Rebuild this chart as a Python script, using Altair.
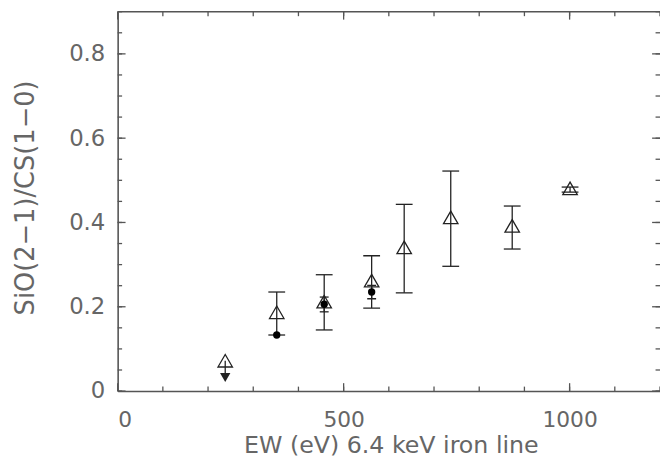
import altair as alt
import pandas as pd

# ---- data ----
ew = [238, 352, 457, 562, 634, 737, 873, 1001]
ratio = [0.072, 0.187, 0.212, 0.262, 0.341, 0.412, 0.392, 0.481]
ratio_lo = [None, 0.133, 0.145, 0.197, 0.233, 0.296, 0.337, 0.472]
ratio_hi = [None, 0.235, 0.276, 0.321, 0.443, 0.522, 0.439, 0.484]

# upper limit (first point)
lim_ew = [238]
lim_from = [0.072]
lim_to = [0.032]

# filled circles
ew_c = [352, 457, 562]
ratio_c = [0.133, 0.206, 0.235]
ratio_c_lo = [None, 0.188, 0.219]
ratio_c_hi = [None, 0.223, 0.251]

# axis ticks
x_labels = [0, 500, 1000]
y_labels = [0.0, 0.2, 0.4, 0.6, 0.8]
x_minor = list(range(0, 1201, 100))
x_major = [0, 500, 1000]
y_minor = [round(0.05 * i, 2) for i in range(19)]
y_major = [0.0, 0.2, 0.4, 0.6, 0.8]

W, H = 549, 384
MAJ, MIN = 8, 4.5
INK = "#222222"
AXC = "#555555"
TXT = "#666666"
FONT = "DejaVu Sans"

tri = pd.DataFrame({"ew": ew, "r": ratio, "lo": ratio_lo, "hi": ratio_hi})
tri_err = tri.dropna()
lim = pd.DataFrame({"ew": lim_ew, "a": lim_from, "b": lim_to})
circ = pd.DataFrame({"ew": ew_c, "r": ratio_c, "lo": ratio_c_lo, "hi": ratio_c_hi})
circ_err = circ.dropna()

xs = alt.Scale(domain=[0, 1200], nice=False, zero=False)
ys = alt.Scale(domain=[0, 0.9], nice=False, zero=False)

def X(f="ew"):
    return alt.X(f"{f}:Q", scale=xs)

def Y(f="r"):
    return alt.Y(f"{f}:Q", scale=ys)

# base layer carrying the axes
base = alt.Chart(tri).mark_point(
    shape="triangle-up", size=215, filled=False, color=INK, strokeWidth=1.3, opacity=1
).encode(
    x=alt.X("ew:Q", scale=xs, axis=alt.Axis(
        values=x_labels, format="d", ticks=False, grid=False,
        domainColor=AXC, domainWidth=1.6,
        labelFont=FONT, labelFontSize=22, labelColor=TXT, labelPadding=19,
        title="EW (eV) 6.4 keV iron line", titleFont=FONT, titleFontSize=24,
        titleFontWeight="normal", titleColor=TXT,
        titleX=W / 2 + 2, titleY=55, titleBaseline="middle", titleAlign="center")),
    y=alt.Y("r:Q", scale=ys, axis=alt.Axis(
        values=y_labels, ticks=False, grid=False,
        labelExpr="datum.value == 0 ? '0' : format(datum.value, '.1f')",
        domainColor=AXC, domainWidth=1.6,
        labelFont=FONT, labelFontSize=23, labelColor=TXT, labelPadding=13,
        title="SiO(2−1)/CS(1−0)", titleFont=FONT, titleFontSize=26,
        titleFontWeight="normal", titleColor=TXT,
        titleX=-93, titleY=188, titleAngle=270, titleBaseline="middle", titleAlign="center")),
)

err = alt.Chart(tri_err).mark_rule(color=INK, strokeWidth=1.3).encode(x=X(), y=Y("lo"), y2="hi:Q")
cap_hi = alt.Chart(tri_err).mark_tick(orient="horizontal", size=17, thickness=1.3, color=INK, opacity=1).encode(x=X(), y=Y("hi"))
cap_lo = alt.Chart(tri_err).mark_tick(orient="horizontal", size=17, thickness=1.3, color=INK, opacity=1).encode(x=X(), y=Y("lo"))

lim_line = alt.Chart(lim).mark_rule(color=INK, strokeWidth=1.3).encode(x=X(), y=Y("a"), y2="b:Q")
lim_head = alt.Chart(lim).mark_point(shape="triangle-down", size=110, filled=True, color=INK, opacity=1).encode(x=X(), y=Y("b"))

c_err = alt.Chart(circ_err).mark_rule(color=INK, strokeWidth=1.3).encode(x=X(), y=Y("lo"), y2="hi:Q")
c_cap_hi = alt.Chart(circ_err).mark_tick(orient="horizontal", size=9, thickness=1.3, color=INK, opacity=1).encode(x=X(), y=Y("hi"))
c_cap_lo = alt.Chart(circ_err).mark_tick(orient="horizontal", size=9, thickness=1.3, color=INK, opacity=1).encode(x=X(), y=Y("lo"))
c_pts = alt.Chart(circ).mark_point(shape="circle", size=55, filled=True, color="#000000", opacity=1).encode(x=X(), y=Y())

# inward frame ticks
def xt(vals, y0, y1):
    return alt.Chart(pd.DataFrame({"ew": vals})).mark_rule(color=AXC, strokeWidth=1.3).encode(
        x=X(), y=alt.value(y0), y2=alt.value(y1))

def yt(vals, x0, x1):
    return alt.Chart(pd.DataFrame({"r": vals})).mark_rule(color=AXC, strokeWidth=1.3).encode(
        y=Y(), x=alt.value(x0), x2=alt.value(x1))

ticks = [
    xt(x_minor, H, H - MIN), xt(x_major, H, H - MAJ),
    xt(x_minor, 0, MIN), xt(x_major, 0, MAJ),
    yt(y_minor, 0, MIN), yt(y_major, 0, MAJ),
    yt(y_minor, W, W - MIN), yt(y_major, W, W - MAJ),
]
top_line = alt.Chart(pd.DataFrame({"v": [0]})).mark_rule(color=AXC, strokeWidth=1.6).encode(
    x=alt.value(0), x2=alt.value(W), y=alt.value(0))

chart = alt.layer(
    base,
    *ticks, top_line,
    err, cap_hi, cap_lo, lim_line, lim_head,
    c_err, c_cap_hi, c_cap_lo, c_pts,
).properties(
    width=W, height=H,
    autosize=alt.AutoSizeParams(type="none"),
    padding={"left": 111, "top": 1, "right": 0, "bottom": 66},
    background="white",
).configure_view(stroke=None)

chart.save("out.html", embed_options={"renderer": "svg", "actions": False})
